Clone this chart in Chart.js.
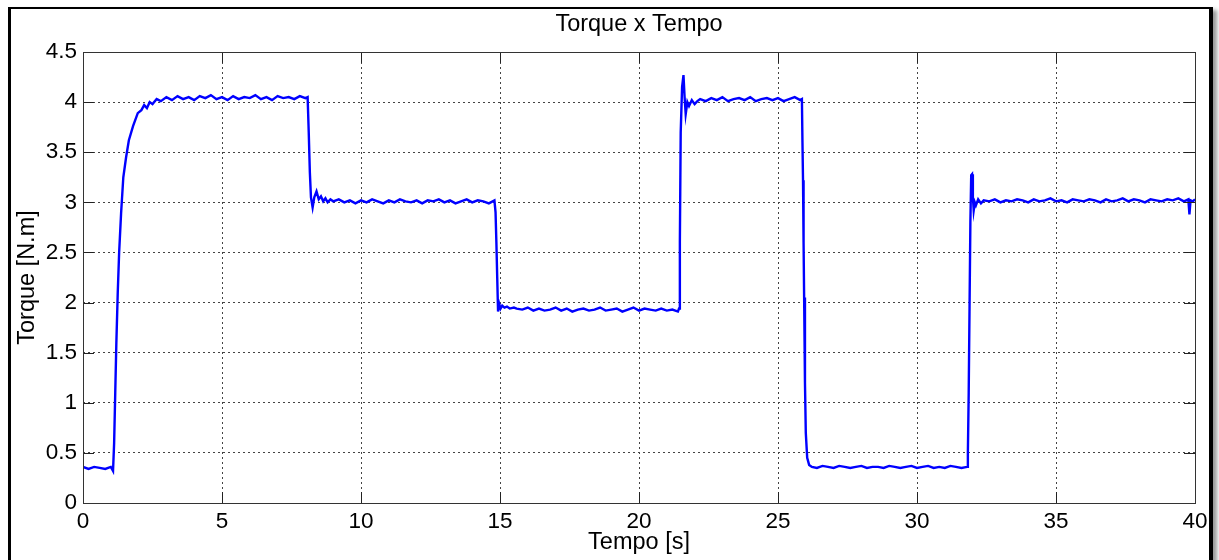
<!DOCTYPE html>
<html>
<head>
<meta charset="utf-8">
<title>Torque x Tempo</title>
<script src="https://cdn.jsdelivr.net/npm/chart.js@4/dist/chart.umd.min.js"></script>
<style>
  html, body { margin: 0; padding: 0; background: #fff; overflow: hidden; }
  #frame {
    position: absolute; left: 8px; top: 7px; width: 1198px; height: 600px;
    border: 3px solid #000; border-top-width: 2px; border-right-width: 4px;
    box-shadow: 4px 3px 4px #999;
  }
  #wrap { position: absolute; left: 0; top: 0; width: 1219px; height: 560px; }
</style>
</head>
<body>
<div id="frame"></div>
<div id="wrap"><canvas id="myChart" width="1219" height="560"></canvas></div>
<script>
// time [s] and torque [N.m], segment by segment
let tempo = [
  0, 0.2, 0.4, 0.6, 0.8, 1.0, 1.08,
  1.12, 1.16, 1.2, 1.25, 1.3, 1.37, 1.45, 1.55, 1.65, 1.8, 1.97, 2.1, 2.2, 2.3, 2.4, 2.5, 2.65, 2.8,
  3.0, 3.2, 3.4, 3.6, 3.8, 4.0, 4.2, 4.4, 4.6, 4.8, 5.0, 5.2, 5.4, 5.6, 5.8, 6.0, 6.2, 6.4, 6.6, 6.8, 7.0, 7.2, 7.4, 7.6, 7.8, 8.0, 8.08,
  8.12, 8.16, 8.2, 8.26, 8.32, 8.4, 8.48, 8.56, 8.64, 8.72, 8.8, 8.9,
  9.0, 9.2, 9.4, 9.6, 9.8, 10.0, 10.2, 10.4, 10.6, 10.8, 11.0, 11.2, 11.4, 11.6, 11.8, 12.0, 12.2, 12.4, 12.6, 12.8, 13.0, 13.2, 13.4, 13.6, 13.8, 14.0, 14.2, 14.4, 14.6, 14.8,
  14.84, 14.87, 14.9, 14.93, 14.97, 15.02, 15.08, 15.16, 15.25, 15.35, 15.5,
  15.6, 15.8, 16.0, 16.2, 16.4, 16.6, 16.8, 17.0, 17.2, 17.4, 17.6, 17.8, 18.0, 18.2, 18.4, 18.6, 18.8, 19.0, 19.2, 19.4, 19.6, 19.8, 20.0, 20.2, 20.4, 20.6, 20.8, 21.0, 21.2, 21.4,
  21.44, 21.47, 21.5, 21.55, 21.6, 21.64, 21.68, 21.74, 21.8, 21.9, 22.0, 22.1,
  22.2, 22.4, 22.6, 22.8, 23.0, 23.2, 23.4, 23.6, 23.8, 24.0, 24.2, 24.4, 24.6, 24.8, 25.0, 25.2, 25.4, 25.6, 25.8,
  25.86, 25.88, 25.9, 25.92, 25.94, 25.97, 26.0, 26.05, 26.12, 26.22,
  26.4, 26.6, 26.8, 27.0, 27.2, 27.4, 27.6, 27.8, 28.0, 28.2, 28.4, 28.6, 28.8, 29.0, 29.2, 29.4, 29.6, 29.8, 30.0, 30.2, 30.4, 30.6, 30.8, 31.0, 31.2, 31.4, 31.6, 31.8,
  31.83, 31.86, 31.89, 31.92, 31.95, 31.98, 32.01, 32.04, 32.08, 32.12, 32.2, 32.3,
  32.4, 32.6, 32.8, 33.0, 33.2, 33.4, 33.6, 33.8, 34.0, 34.2, 34.4, 34.6, 34.8, 35.0, 35.2, 35.4, 35.6, 35.8, 36.0, 36.2, 36.4, 36.6, 36.8, 37.0, 37.2, 37.4, 37.6, 37.8, 38.0, 38.2, 38.4, 38.6, 38.8, 39.0, 39.2, 39.4, 39.6,
  39.76, 39.8, 39.84, 39.92, 40.0
];

let torque = [
  0.36, 0.34, 0.36, 0.35, 0.34, 0.36, 0.32,
  0.6, 1.1, 1.6, 2.1, 2.5, 2.89, 3.25, 3.45, 3.62, 3.76, 3.89, 3.92, 3.97, 3.94, 4.0, 3.98, 4.03, 4.01,
  4.05, 4.02, 4.06, 4.03, 4.05, 4.02, 4.06, 4.04, 4.07, 4.03, 4.05, 4.02, 4.06, 4.03, 4.05, 4.04, 4.07, 4.03, 4.05, 4.02, 4.06, 4.04, 4.05, 4.03, 4.06, 4.04, 4.05,
  3.7, 3.3, 3.05, 2.95, 3.05, 3.11, 3.03, 3.06, 3.01, 3.04, 3.0, 3.03,
  3.01, 3.03, 3.0, 3.02, 2.99, 3.02, 3.0, 3.03, 3.01, 2.99, 3.02, 3.0, 3.03, 3.01, 3.0, 3.02, 2.99, 3.02, 3.01, 3.03, 3.0, 3.02, 2.99, 3.01, 3.03, 3.0, 3.02, 3.01, 2.99, 3.02,
  2.9, 2.6, 2.25, 1.91, 1.99, 1.94, 1.97, 1.95, 1.96, 1.94, 1.95,
  1.94, 1.93, 1.95, 1.92, 1.94, 1.92, 1.93, 1.95, 1.92, 1.94, 1.91, 1.93, 1.94, 1.92, 1.93, 1.95, 1.92, 1.93, 1.94, 1.91, 1.93, 1.95, 1.92, 1.94, 1.93, 1.92, 1.94, 1.92, 1.93, 1.91,
  1.94, 2.6, 3.7, 4.15, 4.27, 4.05, 3.88, 4.0, 3.96, 4.02, 3.98, 4.01,
  4.03, 4.01, 4.04, 4.02, 4.05, 4.01, 4.03, 4.04, 4.02, 4.05, 4.01, 4.03, 4.04, 4.02, 4.04, 4.01, 4.03, 4.05, 4.02,
  4.03, 3.6, 3.22, 2.6, 2.05, 1.2, 0.7, 0.45, 0.38, 0.36,
  0.35, 0.37, 0.36, 0.35, 0.37, 0.36, 0.35, 0.36, 0.37, 0.35, 0.36, 0.36, 0.35, 0.37, 0.36, 0.35, 0.36, 0.37, 0.35, 0.36, 0.37, 0.35, 0.36, 0.35, 0.37, 0.36, 0.35, 0.36,
  0.5, 1.1, 1.95, 2.8, 3.27, 3.28, 3.05, 2.92, 3.0, 2.97, 3.03, 2.99,
  3.02, 3.01, 3.03, 3.0, 3.02, 3.01, 3.03, 3.02, 3.0, 3.03, 3.01, 3.02, 3.04, 3.01, 3.02, 3.0, 3.03, 3.02, 3.01, 3.03, 3.02, 3.0, 3.03, 3.01, 3.02, 3.04, 3.01, 3.03, 3.02, 3.0, 3.03, 3.02, 3.01, 3.03, 3.02, 3.04, 3.01,
  3.03, 2.88, 3.02, 3.01, 3.03
];

let x_ticks = [0, 5, 10, 15, 20, 25, 30, 35, 40];
let y_ticks = [0, 0.5, 1, 1.5, 2, 2.5, 3, 3.5, 4, 4.5];
let chartTitle = 'Torque x Tempo';

let points = tempo.map(function(t, i) { return {x: t, y: torque[i]}; });

let fontName = "'Liberation Sans', Arial, sans-serif";

// solid axes box, small inward ticks and a title centred over the axes, like matlab
const boxPlugin = {
  id: 'box',
  afterDraw(chart) {
    const ctx = chart.ctx;
    const a = chart.chartArea;
    const xs = chart.scales.x;
    const ys = chart.scales.y;
    const len = 11;
    ctx.save();
    ctx.strokeStyle = '#222';
    ctx.lineWidth = 1;
    ctx.beginPath();
    x_ticks.forEach(function(v) {
      let px = Math.round(xs.getPixelForValue(v)) + 0.5;
      ctx.moveTo(px, a.bottom); ctx.lineTo(px, a.bottom - len);
      ctx.moveTo(px, a.top); ctx.lineTo(px, a.top + len);
    });
    y_ticks.forEach(function(v) {
      let py = Math.round(ys.getPixelForValue(v)) + 0.5;
      ctx.moveTo(a.left, py); ctx.lineTo(a.left + len, py);
      ctx.moveTo(a.right, py); ctx.lineTo(a.right - len, py);
    });
    ctx.stroke();
    ctx.strokeStyle = '#333';
    ctx.strokeRect(Math.round(a.left) + 0.5, Math.round(a.top) + 0.5,
                   Math.round(a.right - a.left), Math.round(a.bottom - a.top));
    ctx.fillStyle = '#000';
    ctx.font = '23.5px ' + fontName;
    ctx.textAlign = 'center';
    ctx.textBaseline = 'middle';
    ctx.fillText(chartTitle, (a.left + a.right) / 2, 25);
    ctx.restore();
  }
};

let data = {
  datasets: [{
    label: 'Torque',
    data: points,
    showLine: true,
    borderColor: '#0000ff',
    backgroundColor: '#0000ff',
    borderWidth: 2.4,
    pointRadius: 0,
    tension: 0
  }]
};

let config = {
  type: 'scatter',
  data: data,
  options: {
    responsive: false,
    animation: false,
    layout: { padding: { left: 0, right: 24, top: 52, bottom: 0 } },
    plugins: {
      legend: { display: false },
      tooltip: { enabled: false },
      title: { display: false }
    },
    scales: {
      x: {
        type: 'linear',
        min: 0, max: 40,
        afterFit: function(scale) { scale.height = 57; },
        afterBuildTicks: function(scale) { scale.ticks = x_ticks.map(function(v) { return {value: v}; }); },
        ticks: {
          color: '#000', padding: 5, maxRotation: 0,
          font: { family: fontName, size: 22.5 },
          callback: function(v) { return String(v); }
        },
        grid: { color: '#444', lineWidth: 1, drawTicks: false },
        border: { display: false, dash: [2, 3] },
        title: {
          display: true, text: 'Tempo [s]', color: '#000',
          font: { family: fontName, size: 23.5 },
          padding: { top: 0, bottom: 3 }
        }
      },
      y: {
        type: 'linear',
        min: 0, max: 4.5,
        afterFit: function(scale) { scale.width = 83; },
        afterBuildTicks: function(scale) { scale.ticks = y_ticks.map(function(v) { return {value: v}; }); },
        ticks: {
          color: '#000', padding: 6,
          font: { family: fontName, size: 22.5 },
          callback: function(v) { return String(v); }
        },
        grid: { color: '#444', lineWidth: 1, drawTicks: false },
        border: { display: false, dash: [2, 3] },
        title: {
          display: true, text: 'Torque [N.m]', color: '#000',
          font: { family: fontName, size: 23.5 },
          padding: { top: 13, bottom: 0 }
        }
      }
    }
  },
  plugins: [boxPlugin]
};

let myChart = new Chart(document.getElementById('myChart'), config);
</script>
</body>
</html>
